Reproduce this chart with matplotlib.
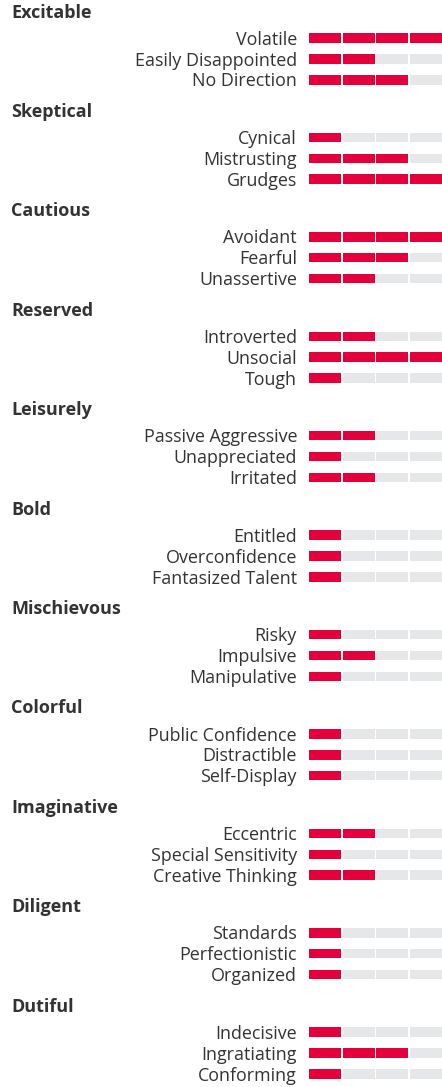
import matplotlib
matplotlib.use("Agg")
import matplotlib.pyplot as plt

groups = ["Excitable", "Skeptical", "Cautious", "Reserved", "Leisurely", "Bold",
          "Mischievous", "Colorful", "Imaginative", "Diligent", "Dutiful"]
items = [
    ["Volatile", "Easily Disappointed", "No Direction"],
    ["Cynical", "Mistrusting", "Grudges"],
    ["Avoidant", "Fearful", "Unassertive"],
    ["Introverted", "Unsocial", "Tough"],
    ["Passive Aggressive", "Unappreciated", "Irritated"],
    ["Entitled", "Overconfidence", "Fantasized Talent"],
    ["Risky", "Impulsive", "Manipulative"],
    ["Public Confidence", "Distractible", "Self-Display"],
    ["Eccentric", "Special Sensitivity", "Creative Thinking"],
    ["Standards", "Perfectionistic", "Organized"],
    ["Indecisive", "Ingratiating", "Conforming"],
]
scores = [
    [4, 2, 3],
    [1, 3, 4],
    [4, 3, 2],
    [2, 4, 1],
    [2, 1, 2],
    [1, 1, 1],
    [1, 2, 1],
    [1, 1, 1],
    [2, 1, 2],
    [1, 1, 1],
    [1, 3, 1],
]
max_score = 4

RED = "#E4003A"
GREY = "#E6E7E8"
TEXT = "#333333"

W, H = 442, 1087
fig = plt.figure(figsize=(W / 100, H / 100), dpi=100)
ax = fig.add_axes([0, 0, 1, 1])
ax.set_xlim(0, W)
ax.set_ylim(H, 0)
ax.axis("off")

group_step = 99.42
header_base0 = 17.5
row_y0 = 38.0
row_step = 20.9
bar_x0 = 309
seg_w = 32.0
seg_step = 33.67
bar_h = 9.5
label_x = 297

for g, (name, its, sc) in enumerate(zip(groups, items, scores)):
    gy = g * group_step
    ax.text(11.5, header_base0 + gy, name, fontsize=13, fontweight="bold",
            color=TEXT, family="Open Sans", va="baseline", ha="left")
    for r, (lab, s) in enumerate(zip(its, sc)):
        y = row_y0 + gy + r * row_step
        ax.text(label_x, y + 6.6, lab, fontsize=12.9, color=TEXT, family="Open Sans",
                va="baseline", ha="right")
        for k in range(max_score):
            x = bar_x0 + k * seg_step
            ax.barh(y, seg_w, left=x, height=bar_h,
                    color=RED if k < s else GREY, linewidth=0)

fig.savefig("out.png", dpi=100)
